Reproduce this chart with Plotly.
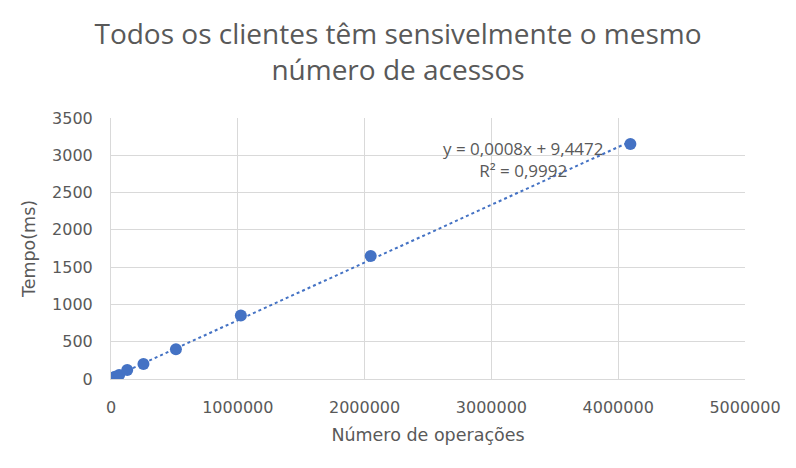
import numpy as np
import plotly.graph_objects as go

operacoes = [4000, 8000, 16000, 32000, 64000, 128000, 256000, 512000, 1024000, 2048000, 4096000]
tempo_ms = [5, 10, 18, 30, 55, 120, 200, 400, 850, 1650, 3150]

x_ticks = [0, 1000000, 2000000, 3000000, 4000000, 5000000]
x_ticklabels = ["0", "1000000", "2000000", "3000000", "4000000", "5000000"]
y_ticks = [0, 500, 1000, 1500, 2000, 2500, 3000, 3500]

eq_text = "y = 0,0008x + 9,4472"
r2_text = "R² = 0,9992"

coef = np.polyfit(operacoes, tempo_ms, 1)
trend_x = [0, operacoes[-1]]
trend_y = [coef[1] + coef[0] * v for v in trend_x]

grey = "#595959"
blue = "#4472C4"
font = "Open Sans"
tfont = "DejaVu Sans"

fig = go.Figure()
fig.add_trace(go.Scatter(x=trend_x, y=trend_y, mode="lines",
                         line=dict(color=blue, width=2, dash="dot"), hoverinfo="skip"))
fig.add_trace(go.Scatter(x=operacoes, y=tempo_ms, mode="markers",
                         marker=dict(color=blue, size=12)))

fig.add_annotation(x=3250000, y=2945, xref="x", yref="y", text=eq_text + "<br>" + r2_text,
                   showarrow=False, align="center", xanchor="center", yanchor="middle",
                   font=dict(family=font, size=17, color=grey))

fig.update_layout(
    width=796, height=468,
    margin=dict(l=111, r=51, t=118, b=89),
    paper_bgcolor="white", plot_bgcolor="white",
    showlegend=False,
    font=dict(family=font, color=grey),
    title=dict(text="Todos os clientes têm sensivelmente o mesmo<br>número de acessos",
               x=0.5, xanchor="center", xref="container", y=1 - 44 / 468, yanchor="middle",
               font=dict(family=font, size=28, color=grey)),
    xaxis=dict(range=[0, 5000000], tickvals=x_ticks, ticktext=x_ticklabels,
               showgrid=True, gridcolor="#d9d9d9", gridwidth=1,
               zeroline=False, showline=True, linecolor="#d9d9d9", mirror=False,
               ticklabelstandoff=14,
               tickfont=dict(family=tfont, size=16, color=grey),
               title=dict(text="Número de operações", font=dict(family=tfont, size=17.5, color=grey), standoff=12)),
    yaxis=dict(range=[0, 3500], tickvals=y_ticks,
               showgrid=True, gridcolor="#d9d9d9", gridwidth=1,
               zeroline=False, showline=True, linecolor="#d9d9d9",
               ticklabelstandoff=14,
               tickfont=dict(family=tfont, size=16, color=grey),
               title=dict(text="Tempo(ms)", font=dict(family=tfont, size=17.5, color=grey), standoff=11)),
)

fig.write_html("out.html")
